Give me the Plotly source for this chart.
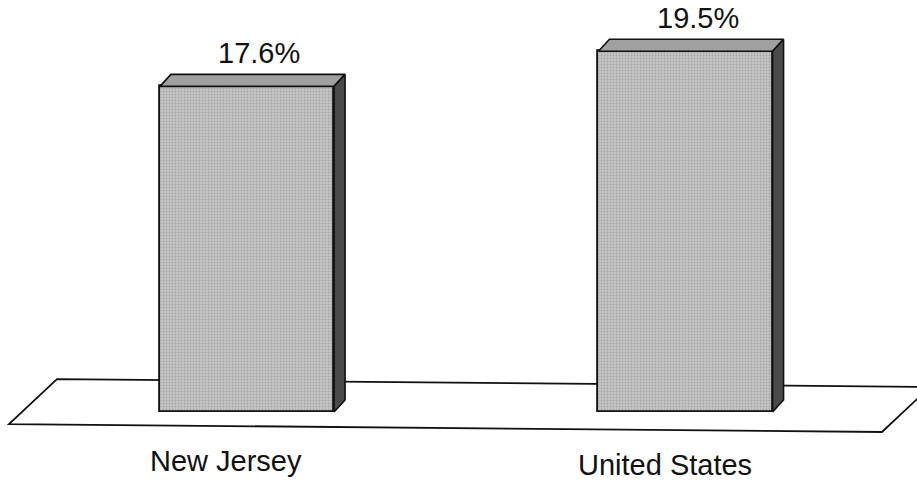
import plotly.graph_objects as go

# Share of population, by area
categories = ["New Jersey", "United States"]
values = [17.6, 19.5]
value_labels = ["17.6%", "19.5%"]

# Layout helpers (pixel geometry of the plotting frame)
W, H = 917, 480
X0_PX, X_UNIT = 247.0, 438.5      # pixel of category 0, pixels per category step
Y0_PX, Y_UNIT = 412.0, 18.5       # pixel of value 0, pixels per percentage point

BAR_W = 0.397                     # bar width in category units
DX = 11 / X_UNIT                  # 3-D depth offset, horizontal
DY = 12 / Y_UNIT                  # 3-D depth offset, vertical

FRONT = "#bababa"
TOP = "#a0a0a0"
SIDE = "#4a4a4a"
EDGE = "#111111"
FONT = dict(family="Arial, Liberation Sans, Helvetica, sans-serif", size=29, color="#111111")

x_range = [-X0_PX / X_UNIT, (W - X0_PX) / X_UNIT]
y_range = [(Y0_PX - H) / Y_UNIT, Y0_PX / Y_UNIT]

fig = go.Figure()

# Floor slab under the bars (left/right extent in category units, front/back in value units)
fl_left, fl_right = -0.5428, 1.448
fl_front_l, fl_front_r = -0.65, -1.08
slant_x, slant_y = 48 / X_UNIT, 45 / Y_UNIT
floor_path = (
    f"M {fl_left},{fl_front_l} L {fl_right},{fl_front_r} "
    f"L {fl_right + slant_x},{fl_front_r + slant_y} L {fl_left + slant_x},{fl_front_l + slant_y} Z"
)
fig.add_shape(type="path", path=floor_path, xref="x", yref="y",
              line=dict(color=EDGE, width=1.8), fillcolor="white", layer="below")

# Front faces
fig.add_trace(go.Bar(
    x=list(range(len(categories))), y=values, width=BAR_W,
    marker=dict(color=FRONT, line=dict(color=EDGE, width=1.8),
                pattern=dict(shape=".", fgcolor="#858585", bgcolor="#c4c4c4",
                             size=3, solidity=0.3)),
    hoverinfo="skip", showlegend=False,
))

# Top and side faces for the 3-D look
for i, v in enumerate(values):
    l, r = i - BAR_W / 2, i + BAR_W / 2
    fig.add_trace(go.Scatter(
        x=[l, l + DX, r + DX, r, l], y=[v, v + DY, v + DY, v, v],
        mode="lines", fill="toself", fillcolor=TOP,
        line=dict(color=EDGE, width=1.6), hoverinfo="skip", showlegend=False,
    ))
    fig.add_trace(go.Scatter(
        x=[r, r + DX, r + DX, r, r], y=[0, DY, v + DY, v, 0],
        mode="lines", fill="toself", fillcolor=SIDE,
        line=dict(color=EDGE, width=1.6), hoverinfo="skip", showlegend=False,
    ))

# Value labels above each bar
for i, (v, t) in enumerate(zip(values, value_labels)):
    fig.add_annotation(x=i, y=v + DY, text=t, showarrow=False, xref="x", yref="y",
                       xanchor="center", yanchor="middle", xshift=12, yshift=21, font=FONT)

# Category labels in front of the floor
for i, c in enumerate(categories):
    fig.add_annotation(x=i, y=-2.65 - 0.2 * i, text=c, showarrow=False, xref="x", yref="y",
                       xanchor="center", yanchor="middle", xshift=-21, font=FONT)

fig.update_xaxes(range=x_range, visible=False, fixedrange=True)
fig.update_yaxes(range=y_range, visible=False, fixedrange=True)
fig.update_layout(
    width=W, height=H, margin=dict(l=0, r=0, t=0, b=0),
    paper_bgcolor="white", plot_bgcolor="white", bargap=0,
)

fig.write_html("out.html")
